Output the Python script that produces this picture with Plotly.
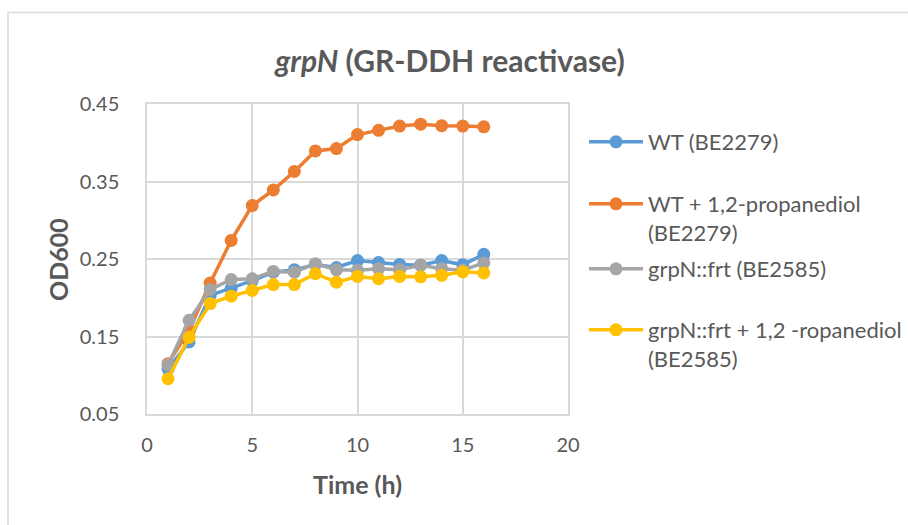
import plotly.graph_objects as go

time_h = list(range(1, 17))
wt = [0.108, 0.143, 0.203, 0.212, 0.222, 0.233, 0.236, 0.243, 0.239, 0.248, 0.2455, 0.243, 0.242, 0.248, 0.2425, 0.256]
wt_prop = [0.115, 0.158, 0.219, 0.274, 0.319, 0.339, 0.363, 0.3895, 0.3925, 0.4105, 0.416, 0.4215, 0.424, 0.422, 0.4215, 0.4205]
grpn = [0.1135, 0.171, 0.2105, 0.2235, 0.2245, 0.234, 0.233, 0.244, 0.236, 0.2355, 0.2375, 0.236, 0.242, 0.2375, 0.2355, 0.245]
grpn_prop = [0.0955, 0.149, 0.1925, 0.202, 0.2095, 0.217, 0.217, 0.231, 0.220, 0.2275, 0.2245, 0.2275, 0.227, 0.229, 0.2335, 0.232]

names = ["WT (BE2279)", "WT + 1,2-propanediol<br>(BE2279)", "grpN::frt (BE2585)",
         "grpN::frt + 1,2 -ropanediol<br>(BE2585)"]
colors = ["#5B9BD5", "#ED7D31", "#A5A5A5", "#FFC000"]
series = [wt, wt_prop, grpn, grpn_prop]
legend_ids = ["legend", "legend2", "legend3", "legend4"]
legend_line_px = [143, 205, 270, 331]

FONT = "Lato"
TXT = "#595959"
GRID = "#D9D9D9"

L, R, T, B = 147, 340, 104, 111
W, H = 908, 525
plot_h = H - T - B
plot_w = W - L - R


def py(p):
    return (H - B - p) / plot_h


def px(p):
    return (p - L) / plot_w


fig = go.Figure()
for name, col, ys, lg in zip(names, colors, series, legend_ids):
    fig.add_trace(go.Scatter(
        x=time_h, y=ys, name=name, mode="lines+markers",
        line=dict(color=col, width=3.5),
        marker=dict(color=col, size=13),
        legend=lg,
    ))

layout_legends = {}
for lg, ypix in zip(legend_ids, legend_line_px):
    layout_legends[lg] = dict(
        x=px(584), xanchor="left", y=py(ypix - 22), yanchor="top",
        font=dict(family=FONT, size=22, color=TXT),
        bgcolor="rgba(0,0,0,0)", valign="top", itemwidth=54,
    )

fig.update_layout(
    width=W, height=H,
    margin=dict(l=L, r=R, t=T, b=B, autoexpand=False),
    paper_bgcolor="white", plot_bgcolor="white",
    font=dict(family=FONT, color=TXT),
    showlegend=True,
    title=dict(
        text="<b><i>grpN</i> (GR-DDH reactivase)</b>",
        font=dict(family=FONT, size=30, color=TXT),
        x=450 / W, xanchor="center", xref="container",
        y=1 - 61 / H, yanchor="middle", yref="container",
    ),
    xaxis=dict(
        range=[0, 20], dtick=5, tick0=0,
        showgrid=True, gridcolor=GRID, gridwidth=1.5,
        showline=True, linecolor=GRID, linewidth=1.5, mirror=True,
        zeroline=False, ticks="",
        tickfont=dict(family=FONT, size=20, color=TXT),
        ticklabelstandoff=12,
    ),
    yaxis=dict(
        range=[0.05, 0.45], dtick=0.1, tick0=0.05, tickformat=".2f",
        showgrid=True, gridcolor=GRID, gridwidth=1.5,
        showline=True, linecolor=GRID, linewidth=1.5, mirror=True,
        zeroline=False, ticks="",
        tickfont=dict(family=FONT, size=20, color=TXT),
        ticklabelstandoff=22,
    ),
    annotations=[
        dict(text="<b>Time (h)</b>", xref="paper", yref="paper",
             x=px(357), y=py(484), xanchor="center", yanchor="middle",
             showarrow=False, font=dict(family=FONT, size=25, color=TXT)),
        dict(text="<b>OD600</b>", xref="paper", yref="paper",
             x=px(58), y=py(260), xanchor="center", yanchor="middle",
             textangle=-90,
             showarrow=False, font=dict(family=FONT, size=25, color=TXT)),
    ],
    shapes=[
        dict(type="rect", xref="paper", yref="paper",
             x0=px(8), x1=px(912), y0=py(530), y1=py(12.5),
             line=dict(color="#D9D9D9", width=1.5), fillcolor="rgba(0,0,0,0)",
             layer="below"),
    ],
    **layout_legends,
)

fig.write_html("out.html")
